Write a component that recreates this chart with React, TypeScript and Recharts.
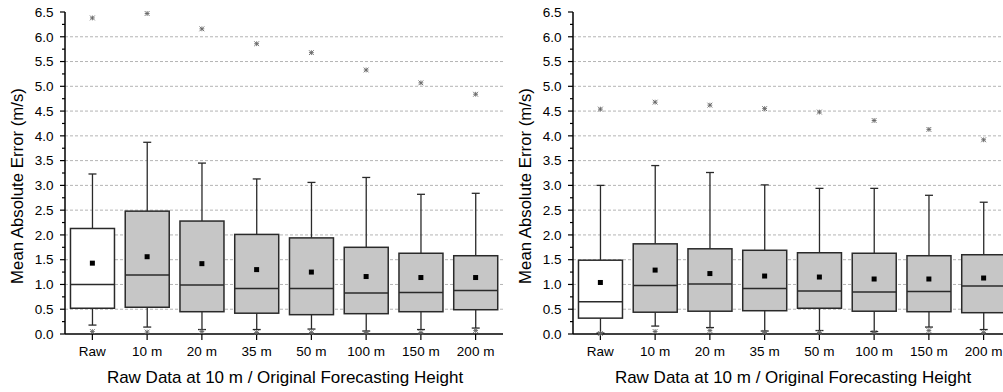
import React from 'react';
import { ComposedChart, Bar, Scatter, XAxis, YAxis, CartesianGrid, Cell } from 'recharts';

const FONT = '"Liberation Sans", Arial, Helvetica, sans-serif';

const categories = ['Raw', '10 m', '20 m', '35 m', '50 m', '100 m', '150 m', '200 m'];

// Left panel statistics (m/s)
const leftMax = [6.38, 6.47, 6.16, 5.86, 5.68, 5.33, 5.07, 4.84];
const leftHi = [3.23, 3.87, 3.45, 3.13, 3.06, 3.16, 2.82, 2.84];
const leftQ3 = [2.13, 2.48, 2.28, 2.01, 1.94, 1.75, 1.63, 1.58];
const leftMedian = [1.0, 1.19, 0.99, 0.92, 0.92, 0.83, 0.84, 0.88];
const leftQ1 = [0.52, 0.54, 0.45, 0.42, 0.39, 0.41, 0.45, 0.49];
const leftMean = [1.43, 1.56, 1.42, 1.3, 1.25, 1.16, 1.14, 1.14];
const leftLo = [0.18, 0.14, 0.09, 0.09, 0.1, 0.06, 0.09, 0.12];
const leftMin = [0.05, 0.04, 0.05, 0.03, 0.03, 0.03, 0.03, 0.07];

// Right panel statistics (m/s)
const rightMax = [4.54, 4.68, 4.62, 4.55, 4.48, 4.31, 4.13, 3.92];
const rightHi = [3.0, 3.4, 3.26, 3.01, 2.94, 2.94, 2.8, 2.66];
const rightQ3 = [1.49, 1.82, 1.72, 1.69, 1.64, 1.63, 1.58, 1.6];
const rightMedian = [0.65, 0.98, 1.01, 0.92, 0.87, 0.85, 0.86, 0.97];
const rightQ1 = [0.32, 0.44, 0.46, 0.47, 0.52, 0.46, 0.45, 0.43];
const rightMean = [1.04, 1.29, 1.22, 1.17, 1.15, 1.11, 1.11, 1.13];
const rightLo = [0.02, 0.16, 0.13, 0.06, 0.07, 0.05, 0.14, 0.09];
const rightMin = [0.01, 0.05, 0.07, 0.03, 0.03, 0.03, 0.07, 0.03];

const yTicks = [
  0, 0.25, 0.5, 0.75, 1, 1.25, 1.5, 1.75, 2, 2.25, 2.5, 2.75, 3, 3.25, 3.5, 3.75,
  4, 4.25, 4.5, 4.75, 5, 5.25, 5.5, 5.75, 6, 6.25, 6.5,
];
const gridValues = [0.5, 1, 1.5, 2, 2.5, 3, 3.5, 4, 4.5, 5, 5.5, 6];

const X_TITLE = 'Raw Data at 10 m / Original Forecasting Height';
const Y_TITLE = 'Mean Absolute Error (m/s)';

type Row = {
  cat: string;
  lo: number;
  q1: number;
  med: number;
  q3: number;
  hi: number;
  mean: number;
  min: number;
  max: number;
};

function buildRows(
  lo: number[], q1: number[], med: number[], q3: number[], hi: number[],
  mean: number[], min: number[], max: number[],
): Row[] {
  return categories.map((cat, i) => ({
    cat, lo: lo[i], q1: q1[i], med: med[i], q3: q3[i], hi: hi[i],
    mean: mean[i], min: min[i], max: max[i],
  }));
}

const leftRows = buildRows(leftLo, leftQ1, leftMedian, leftQ3, leftHi, leftMean, leftMin, leftMax);
const rightRows = buildRows(rightLo, rightQ1, rightMedian, rightQ3, rightHi, rightMean, rightMin, rightMax);

const EDGE = '#2a2a2a';

// Box + whiskers drawn inside the range bar [lo, hi]
function BoxShape(props: any) {
  const { x, y, width, height, payload, fill } = props;
  if (!payload || x == null) return null;
  const top = Math.min(y, y + height);
  const bottom = Math.max(y, y + height);
  const span = payload.hi - payload.lo;
  const py = (v: number) => bottom - ((v - payload.lo) / span) * (bottom - top);
  const cx = x + width / 2;
  const cap = 4;
  const yq3 = py(payload.q3);
  const yq1 = py(payload.q1);
  const ymed = py(payload.med);
  return (
    <g>
      <line x1={cx} x2={cx} y1={top} y2={yq3} stroke={EDGE} strokeWidth={1.3} />
      <line x1={cx} x2={cx} y1={yq1} y2={bottom} stroke={EDGE} strokeWidth={1.3} />
      <line x1={cx - cap} x2={cx + cap} y1={top} y2={top} stroke={EDGE} strokeWidth={1.3} />
      <line x1={cx - cap} x2={cx + cap} y1={bottom} y2={bottom} stroke={EDGE} strokeWidth={1.3} />
      <rect x={x} y={yq3} width={width} height={yq1 - yq3} fill={fill} stroke={EDGE} strokeWidth={1.5} />
      <line x1={x} x2={x + width} y1={ymed} y2={ymed} stroke={EDGE} strokeWidth={1.5} />
    </g>
  );
}

function MeanMarker(props: any) {
  const { cx, cy } = props;
  if (cx == null || cy == null) return null;
  return <rect x={cx - 2.5} y={cy - 2.5} width={5} height={5} fill="#000" />;
}

// Small asterisk used for the extreme values
function StarMarker(props: any) {
  const { cx, cy } = props;
  if (cx == null || cy == null) return null;
  const r = 2.4;
  return (
    <g stroke="#666" strokeWidth={0.9}>
      <line x1={cx - r} x2={cx + r} y1={cy - r} y2={cy + r} />
      <line x1={cx - r} x2={cx + r} y1={cy + r} y2={cy - r} />
      <line x1={cx - r} x2={cx + r} y1={cy} y2={cy} />
      <line x1={cx} x2={cx} y1={cy - r} y2={cy + r} />
    </g>
  );
}

const Y_TICK_SIZE = 5;
const Y_TICK_MARGIN = 6.5;

function YTick(props: any) {
  const { x, y, payload } = props;
  const v = payload.value as number;
  const major = Math.abs(v * 2 - Math.round(v * 2)) < 1e-6;
  const axisX = x + Y_TICK_SIZE + Y_TICK_MARGIN;
  const len = major ? 5 : 3;
  return (
    <g>
      <line x1={axisX - len} x2={axisX} y1={y} y2={y} stroke="#000" strokeWidth={1.2} />
      {major && (
        <text x={x} y={y} dy="0.355em" textAnchor="end" fill="#000" fontSize={13.5} fontFamily={FONT}>
          {v.toFixed(1)}
        </text>
      )}
    </g>
  );
}

function XTitle(props: any) {
  const vb = props.viewBox || {};
  const cx = (vb.x ?? 65) + (vb.width ?? 438) / 2 + 1;
  const by = (vb.y ?? 334) + (vb.height ?? 58) - 9;
  return (
    <text x={cx} y={by} textAnchor="middle" fill="#000" fontSize={17} fontFamily={FONT}>
      {X_TITLE}
    </text>
  );
}

function YTitle(props: any) {
  const vb = props.viewBox || {};
  const cx = (vb.x ?? 0) + 17;
  const cy = (vb.y ?? 12) + (vb.height ?? 322) / 2 + 13;
  return (
    <text
      x={cx}
      y={cy}
      transform={`rotate(-90 ${cx} ${cy})`}
      textAnchor="middle"
      dominantBaseline="central"
      fill="#000"
      fontSize={16.8}
      fontFamily={FONT}
    >
      {Y_TITLE}
    </text>
  );
}

function Panel({ rows }: { rows: Row[] }) {
  return (
    <ComposedChart
      width={503}
      height={392}
      data={rows}
      margin={{ top: 12, right: 0, bottom: 0, left: 0 }}
      barCategoryGap="10%"
    >
      <CartesianGrid
        vertical={false}
        horizontalValues={gridValues}
        stroke="#b4b4b4"
        strokeDasharray="3 2"
      />
      <XAxis
        dataKey="cat"
        height={58}
        interval={0}
        tickSize={6}
        tickMargin={6}
        axisLine={{ stroke: '#000', strokeWidth: 1.5 }}
        tickLine={{ stroke: '#000', strokeWidth: 1.2 }}
        tick={{ fill: '#000', fontSize: 13.5, fontFamily: FONT }}
        label={{ content: XTitle }}
      />
      <YAxis
        type="number"
        domain={[0, 6.5]}
        ticks={yTicks}
        interval={0}
        width={65}
        tickSize={Y_TICK_SIZE}
        tickMargin={Y_TICK_MARGIN}
        tickLine={false}
        axisLine={{ stroke: '#000', strokeWidth: 1.5 }}
        tick={<YTick />}
        label={{ content: YTitle }}
      />
      <Bar dataKey={(d: Row) => [d.lo, d.hi]} shape={<BoxShape />} isAnimationActive={false}>
        {rows.map((r, i) => (
          <Cell key={r.cat} fill={i === 0 ? '#ffffff' : '#c6c6c6'} />
        ))}
      </Bar>
      <Scatter dataKey="mean" shape={<MeanMarker />} isAnimationActive={false} />
      <Scatter dataKey="max" shape={<StarMarker />} isAnimationActive={false} />
      <Scatter dataKey="min" shape={<StarMarker />} isAnimationActive={false} />
    </ComposedChart>
  );
}

export default function App() {
  return (
    <div
      style={{
        position: 'absolute',
        left: 0,
        top: 0,
        width: 1003,
        height: 392,
        overflow: 'hidden',
        background: '#fff',
      }}
    >
      <div style={{ position: 'absolute', left: 0, top: 0 }}>
        <Panel rows={leftRows} />
      </div>
      <div style={{ position: 'absolute', left: 508, top: 0 }}>
        <Panel rows={rightRows} />
      </div>
    </div>
  );
}
